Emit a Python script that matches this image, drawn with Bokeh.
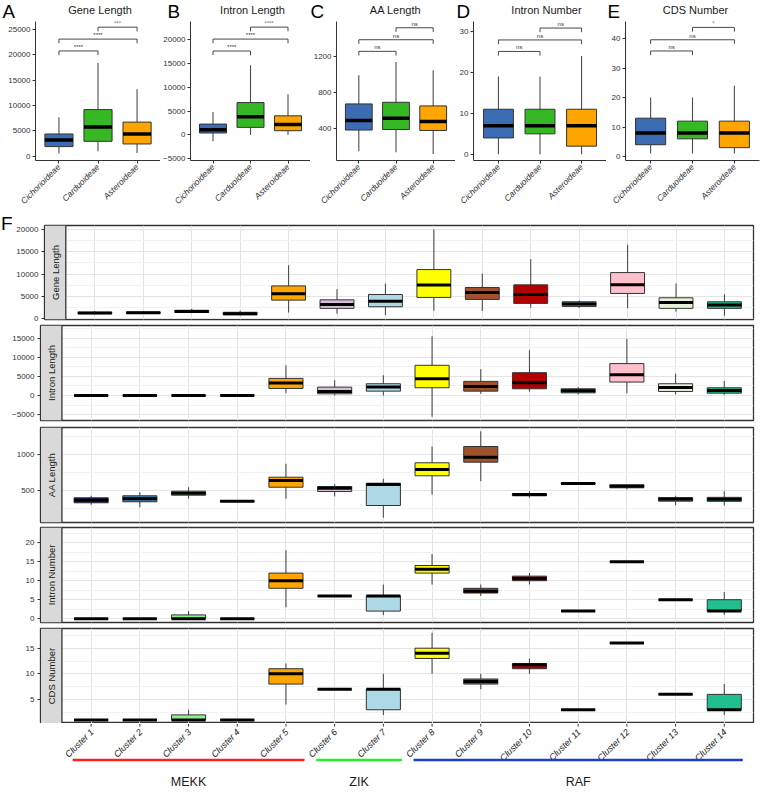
import math

from bokeh.core.properties import value
from bokeh.embed import file_html
from bokeh.layouts import column, row
from bokeh.models import ColumnDataSource, FixedTicker, Range1d, Span
from bokeh.plotting import figure
from bokeh.resources import INLINE

FONT = "Liberation Sans"
INK = "#333333"

# ---------------- Panels A-E: subfamily comparison ----------------
subfamilies = ["Cichorioideae", "Carduoideae", "Asteroideae"]
subfamily_colors = ["#3C6DB4", "#36B824", "#FFA500"]
compare_from = [1, 1, 2]
compare_to = [2, 3, 3]

panel_letters = ["A", "B", "C", "D", "E"]
panel_titles = ["Gene Length", "Intron Length", "AA Length", "Intron Number", "CDS Number"]

gene_lo = [530, 980, 660]
gene_q1 = [1900, 2940, 2420]
gene_med = [3210, 5750, 4380]
gene_q3 = [4390, 9200, 6730]
gene_hi = [7710, 18400, 13200]
gene_sig = ["****", "****", "***"]
gene_sig_y = [20760, 23100, 25450]
gene_ticks = [0, 5000, 10000, 15000, 20000, 25000]

intron_lo = [-1330, 0, 0]
intron_q1 = [420, 1600, 900]
intron_med = [1100, 3820, 2220]
intron_q3 = [2290, 6800, 4020]
intron_hi = [4850, 14650, 8540]
intron_sig = ["****", "****", "****"]
intron_sig_y = [17620, 20120, 22630]
intron_ticks = [-5000, 0, 5000, 10000, 15000, 20000]

aa_lo = [151, 140, 123]
aa_q1 = [386, 392, 381]
aa_med = [491, 517, 480]
aa_q3 = [674, 692, 652]
aa_hi = [991, 1137, 1046]
aa_sig = ["ns", "ns", "ns"]
aa_sig_y = [1254, 1382, 1514]
aa_ticks = [400, 800, 1200]

inum_lo = [0, 0, 0]
inum_q1 = [4, 5, 2]
inum_med = [7, 7, 7]
inum_q3 = [11, 11, 11]
inum_hi = [19, 19, 24]
inum_sig = ["ns", "ns", "ns"]
inum_sig_y = [25.1, 27.9, 30.8]
inum_ticks = [0, 10, 20, 30]

cds_lo = [1, 1, 1]
cds_q1 = [4, 6, 3]
cds_med = [8, 8, 8]
cds_q3 = [13, 12, 12]
cds_hi = [20, 20, 24]
cds_sig = ["ns", "ns", "*"]
cds_sig_y = [35.8, 39.6, 43.8]
cds_ticks = [0, 10, 20, 30, 40]

# ---------------- Panel F: gene clusters ----------------
cluster_names = [f"Cluster {i}" for i in range(1, 15)]
cluster_pos = list(range(1, 15))
cluster_colors = ["#191970", "#4682B4", "#90EE90", "#483D8B", "#FFA500",
                  "#D8BFD8", "#ADD8E6", "#FFFF00", "#A0522D", "#B30000",
                  "#5F9EA0", "#FFC0CB", "#E6F2D5", "#1FBF8F"]

fam_gene_lo = [900, 1000, 1200, 700, 1380, 1080, 780, 1750, 1680, 2420, 2350, 2280, 1520, 630]
fam_gene_q1 = [1100, 1150, 1350, 850, 4130, 2280, 2640, 4740, 4290, 3400, 2720, 5630, 2280, 2280]
fam_gene_med = [1250, 1300, 1550, 1100, 5540, 3170, 3900, 7550, 5850, 5400, 3240, 7560, 3620, 3020]
fam_gene_q3 = [1400, 1450, 1850, 1400, 7330, 4200, 5400, 11000, 6970, 7560, 3760, 10320, 4660, 3760]
fam_gene_hi = [1700, 1600, 2200, 1750, 11950, 6600, 7870, 20000, 10100, 13300, 4060, 16580, 7870, 5470]

fam_intron_lo = [0, 0, 0, 0, 610, 0, 0, -5530, 440, 1050, 260, 610, 260, 180]
fam_intron_q1 = [0, 0, 0, 0, 1840, 440, 1140, 2020, 1140, 1750, 700, 3510, 1050, 610]
fam_intron_med = [0, 0, 0, 0, 3240, 1050, 2190, 4390, 2370, 3330, 1230, 5440, 2100, 1310]
fam_intron_q3 = [0, 0, 0, 0, 4470, 2190, 3070, 7890, 3680, 5960, 1750, 8330, 3070, 2020]
fam_intron_hi = [0, 0, 0, 0, 7900, 3950, 5260, 15500, 6840, 11840, 2200, 14740, 5700, 3770]

fam_aa_lo = [300, 266, 388, 345, 384, 416, 118, 444, 630, 398, 592, 514, 294, 290]
fam_aa_q1 = [328, 342, 434, 345, 546, 486, 290, 706, 896, 426, 592, 538, 350, 348]
fam_aa_med = [364, 384, 462, 350, 640, 532, 584, 794, 966, 444, 598, 560, 378, 378]
fam_aa_q3 = [398, 426, 490, 355, 686, 556, 602, 888, 1116, 458, 604, 580, 402, 404]
fam_aa_hi = [426, 476, 546, 355, 874, 588, 664, 1116, 1330, 490, 604, 580, 426, 490]

fam_inum_lo = [0, 0, 0, 0, 3, 6, 1, 9, 6, 9, 2, 15, 5, 1]
fam_inum_q1 = [0, 0, 0, 0, 8, 6, 2, 12, 6.75, 10, 2, 15, 5, 2]
fam_inum_med = [0, 0, 0, 0, 10, 6, 6, 13, 7.25, 10.6, 2, 15, 5, 2]
fam_inum_q3 = [0, 0, 1, 0, 12, 6, 6, 14, 8, 11.2, 2, 15, 5, 5]
fam_inum_hi = [0, 0, 2, 0, 18, 6, 9, 17, 9, 12, 2, 15, 5, 7]

fam_cds_lo = [1, 1, 1, 1, 4, 7, 2, 10, 7, 10, 3, 16, 6, 2]
fam_cds_q1 = [1, 1, 1, 1, 8, 7, 3, 13, 8, 11, 3, 16, 6, 3]
fam_cds_med = [1, 1, 1, 1, 10, 7, 7, 14, 8.5, 11.75, 3, 16, 6, 3]
fam_cds_q3 = [1, 1, 2, 1, 11, 7, 7, 15, 9, 12, 3, 16, 6, 6]
fam_cds_hi = [1, 1, 3, 1, 12, 7, 10, 18, 10, 13, 3, 16, 6, 8]

group_names = ["MEKK", "ZIK", "RAF"]
group_first = [1, 6, 8]
group_last = [5, 7, 14]
group_colors = ["#FF2020", "#22EE22", "#1E40C8"]

# header placement (pixels across the 760 px page)
letter_x = [2, 167, 310, 456, 607]
title_x = [99.5, 252, 395, 546, 695]
HEADER_H = 21


def blank_canvas(width, height):
    """A borderless figure whose frame uses pixel coordinates (y grows upward)."""
    p = figure(width=width, height=height, min_border=0,
               x_range=Range1d(0, width), y_range=Range1d(0, height),
               x_axis_location=None, y_axis_location=None,
               output_backend="svg", toolbar_location=None)
    p.grid.visible = False
    p.outline_line_color = None
    return p


def style_axis(ax, size="8px"):
    ax.axis_line_color = INK
    ax.axis_line_width = 1
    ax.major_tick_line_color = INK
    ax.major_tick_out = 3
    ax.major_tick_in = 0
    ax.minor_tick_line_color = None
    ax.major_label_text_font = FONT
    ax.major_label_text_font_size = size
    ax.major_label_text_color = INK
    ax.major_label_standoff = 2


def add_boxes(p, xs, lo, q1, med, q3, hi, colors, box_w, med_w):
    half = box_w / 2
    src = ColumnDataSource(dict(x=xs, lo=lo, q1=q1, med=med, q3=q3, hi=hi, color=colors,
                                left=[x - half for x in xs], right=[x + half for x in xs]))
    p.segment(x0="x", y0="lo", x1="x", y1="hi", source=src, line_color="#4D4D4D", line_width=1.1)
    p.quad(left="left", right="right", bottom="q1", top="q3", source=src,
           fill_color="color", line_color=INK, line_width=1)
    p.segment(x0="left", y0="med", x1="right", y1="med", source=src,
              line_color="black", line_width=med_w)


def add_brackets(p, labels, levels, tip):
    x0, y0, x1, y1 = [], [], [], []
    for i, j, y in zip(compare_from, compare_to, levels):
        x0 += [i, i, j]
        x1 += [j, i, j]
        y0 += [y, y, y]
        y1 += [y, y - tip, y - tip]
    p.segment(x0=x0, y0=y0, x1=x1, y1=y1, line_color=INK, line_width=0.9)
    mids = [(i + j) / 2 for i, j in zip(compare_from, compare_to)]
    p.text(x=mids, y=levels, text=labels, text_align="center", text_baseline="bottom",
           y_offset=-1, text_font=value(FONT), text_font_size="6px", text_color=INK)


def subfamily_panel(lo, q1, med, q3, hi, sig, sig_y, yr, ticks, left, frame_w, right):
    p = figure(width=left + frame_w + right, height=212 - HEADER_H,
               min_border_left=left, min_border_right=right,
               min_border_top=0, min_border_bottom=51,
               x_range=Range1d(0.4, 3.6), y_range=Range1d(*yr),
               output_backend="svg", toolbar_location=None)
    p.outline_line_color = None
    p.xgrid.visible = False
    p.ygrid.visible = False
    style_axis(p.xaxis[0], "8.5px")
    style_axis(p.yaxis[0], "8px")
    p.yaxis.ticker = FixedTicker(ticks=ticks)
    p.xaxis.ticker = FixedTicker(ticks=[1, 2, 3])
    p.xaxis.major_label_overrides = {i + 1: s for i, s in enumerate(subfamilies)}
    p.xaxis.major_label_orientation = math.pi / 4
    p.xaxis.major_label_text_font_style = "italic"
    add_boxes(p, [1, 2, 3], lo, q1, med, q3, hi, subfamily_colors, 0.72, 3.5)
    add_brackets(p, sig, sig_y, 0.03 * (yr[1] - yr[0]))
    return p


# letters and titles above panels A-E (y measured upward from the strip's bottom)
header = blank_canvas(760, HEADER_H)
header.text(x=letter_x, y=[HEADER_H - 10.5] * 5, text=panel_letters, text_align="left",
            text_baseline="middle", text_font=value(FONT), text_font_size="18.8px",
            text_color="black")
header.text(x=title_x, y=[HEADER_H - 9.5] * 5, text=panel_titles, text_align="center",
            text_baseline="middle", text_font=value(FONT), text_font_size="11px",
            text_color="#1A1A1A")

panel_a = subfamily_panel(gene_lo, gene_q1, gene_med, gene_q3, gene_hi,
                          gene_sig, gene_sig_y, (-840, 26570), gene_ticks, 35, 125, 0)
panel_b = subfamily_panel(intron_lo, intron_q1, intron_med, intron_q3, intron_hi,
                          intron_sig, intron_sig_y, (-5350, 23810), intron_ticks, 27, 123, 0)
panel_c = subfamily_panel(aa_lo, aa_q1, aa_med, aa_q3, aa_hi,
                          aa_sig, aa_sig_y, (50, 1583), aa_ticks, 22, 123, 0)
panel_d = subfamily_panel(inum_lo, inum_q1, inum_med, inum_q3, inum_hi,
                          inum_sig, inum_sig_y, (-1.5, 32.4), inum_ticks, 18, 133, 0)
panel_e = subfamily_panel(cds_lo, cds_q1, cds_med, cds_q3, cds_hi,
                          cds_sig, cds_sig_y, (-1.35, 45.8), cds_ticks, 19, 134, 1)

# ---------------- Facet rows for panel F ----------------
cluster_x = Range1d(-0.04, 14.6)
STRIP_EDGE = 0.4


def facet_row(name, lo, q1, med, q3, hi, yr, ticks, minor, top, bottom, frame_h,
              width=760, left=40):
    p = figure(width=width, height=top + frame_h + bottom,
               min_border_left=left, min_border_right=7,
               min_border_top=top, min_border_bottom=bottom,
               x_range=cluster_x, y_range=Range1d(*yr),
               output_backend="svg", toolbar_location=None)
    p.outline_line_color = INK
    p.outline_line_width = 1.3
    style_axis(p.yaxis[0], "8px")
    p.yaxis.ticker = FixedTicker(ticks=ticks, minor_ticks=minor)
    p.xaxis.ticker = FixedTicker(ticks=cluster_pos)
    p.xaxis.visible = False
    p.xgrid.grid_line_color = "#E4E4E4"
    p.ygrid.grid_line_color = "#E4E4E4"
    p.ygrid.minor_grid_line_color = "#F2F2F2"
    # facet strip on the left of the panel
    p.quad(left=[cluster_x.start], right=[STRIP_EDGE], bottom=[yr[0]], top=[yr[1]],
           fill_color="#D9D9D9", line_color=None)
    p.add_layout(Span(location=STRIP_EDGE, dimension="height", line_color=INK, line_width=1.3))
    p.text(x=[(cluster_x.start + STRIP_EDGE) / 2], y=[(yr[0] + yr[1]) / 2], text=[name],
           angle=math.pi / 2, text_align="center", text_baseline="middle",
           text_font=value(FONT), text_font_size="9.5px", text_color="#1A1A1A")
    add_boxes(p, cluster_pos, lo, q1, med, q3, hi, cluster_colors, 0.7, 3)
    return p


row_gene = facet_row("Gene Length", fam_gene_lo, fam_gene_q1, fam_gene_med, fam_gene_q3, fam_gene_hi,
                     (-220, 20900), [0, 5000, 10000, 15000, 20000], [2500, 7500, 12500, 17500],
                     13, 3, 94, width=747, left=27)
# the "F" tag sits in its own narrow column left of the first facet row
F_H = 110
f_tag = blank_canvas(13, F_H)
f_tag.text(x=[0.5], y=[F_H - 11], text=["F"], text_align="left", text_baseline="middle",
           text_font=value(FONT), text_font_size="19px", text_color="black")

row_intron = facet_row("Intron Length", fam_intron_lo, fam_intron_q1, fam_intron_med, fam_intron_q3,
                       fam_intron_hi, (-6530, 18280), [-5000, 0, 5000, 10000, 15000],
                       [-2500, 2500, 7500, 12500, 17500], 3, 3, 95)
row_aa = facet_row("AA Length", fam_aa_lo, fam_aa_q1, fam_aa_med, fam_aa_q3, fam_aa_hi,
                   (52, 1382), [500, 1000], [250, 750, 1250], 4, 2, 95)
row_inum = facet_row("Intron Number", fam_inum_lo, fam_inum_q1, fam_inum_med, fam_inum_q3, fam_inum_hi,
                     (-1.0, 24.0), [0, 5, 10, 15, 20], [2.5, 7.5, 12.5, 17.5, 22.5], 3, 3, 95)
row_cds = facet_row("CDS Number", fam_cds_lo, fam_cds_q1, fam_cds_med, fam_cds_q3, fam_cds_hi,
                    (0.32, 18.84), [5, 10, 15], [2.5, 7.5, 12.5, 17.5], 3, 0, 95)

# ---------------- Cluster ticks, names and kinase family brackets ----------------
GH = 73
groups = figure(width=760, height=GH, min_border_left=40, min_border_right=7,
                min_border_top=0, min_border_bottom=0,
                x_range=cluster_x, y_range=Range1d(0, GH),
                x_axis_location=None, y_axis_location=None,
                output_backend="svg", toolbar_location=None)
groups.grid.visible = False
groups.outline_line_color = None
groups.segment(x0=cluster_pos, x1=cluster_pos, y0=[GH] * 14, y1=[GH - 3] * 14,
               line_color=INK, line_width=1)
groups.text(x=cluster_pos, y=[GH - 7] * 14, text=cluster_names, angle=math.pi / 4,
            text_align="right", text_baseline="middle", x_offset=1,
            text_font=value(FONT), text_font_size="9px", text_font_style="italic",
            text_color="#1A1A1A")
groups.segment(x0=[f - 0.38 for f in group_first], x1=[l + 0.38 for l in group_last],
               y0=[GH - 36.5] * 3, y1=[GH - 36.5] * 3, line_color=group_colors, line_width=2.5)
groups.text(x=[(f + l) / 2 for f, l in zip(group_first, group_last)], y=[GH - 58] * 3,
            text=group_names, text_align="center", text_baseline="middle",
            text_font=value(FONT), text_font_size="12.5px", text_color="#1A1A1A")

layout = column(row(header),
                row(panel_a, panel_b, panel_c, panel_d, panel_e),
                row(column(f_tag), row_gene),
                row_intron, row_aa, row_inum, row_cds, groups)

open("out.html", "w").write(file_html(layout, INLINE))
